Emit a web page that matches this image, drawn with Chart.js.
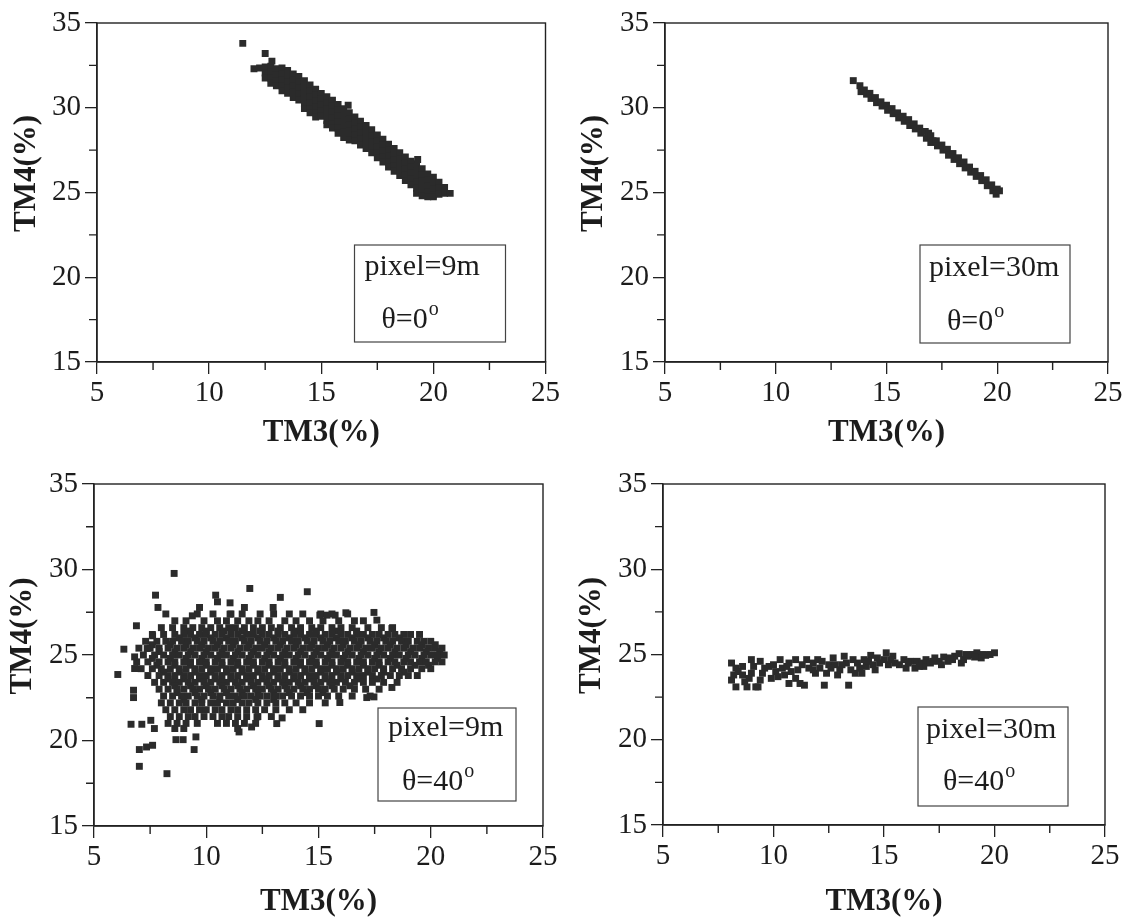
<!DOCTYPE html>
<html>
<head>
<meta charset="UTF-8">
<title>TM3 - TM4</title>
<script src="https://cdn.jsdelivr.net/npm/chart.js"></script>
<style>
  body { margin: 0; background: #fff; }
  #wrap { position: relative; width: 1125px; height: 917px; }
  #wrap canvas { position: absolute; }
</style>
</head>
<body>
<div id="wrap">
  <canvas id="c1" width="562" height="458" style="left:0;top:0"></canvas>
  <canvas id="c2" width="563" height="458" style="left:562px;top:0"></canvas>
  <canvas id="c3" width="562" height="459" style="left:0;top:458px"></canvas>
  <canvas id="c4" width="563" height="459" style="left:562px;top:458px"></canvas>
</div>

<script>
  // tick values
  const xMajor = [5, 10, 15, 20, 25];
  const yMajor = [15, 20, 25, 30, 35];
  const xMinor = [7.5, 12.5, 17.5, 22.5];
  const yMinor = [17.5, 22.5, 27.5, 32.5];

  // pixel=9m, theta=0 : columns [TM3, [TM4 ...]]
  const tlCols = [
    [12.0, [32.3]], [12.25, [32.35]],
    [12.5, [32.4, 32.05, 31.75]], [12.75, [32.45, 32.1, 31.75, 31.45]],
    [13.0, [32.3, 31.95, 31.6, 31.3]], [13.25, [32.35, 32.0, 31.65, 31.3, 31.0]],
    [13.5, [32.2, 31.85, 31.5, 31.15, 30.85]], [13.75, [32.0, 31.65, 31.3, 30.95, 30.6]],
    [14.0, [31.85, 31.5, 31.15, 30.8, 30.45]], [14.25, [31.6, 31.25, 30.9, 30.55, 30.2, 29.95]],
    [14.5, [31.35, 31.0, 30.65, 30.3, 29.95, 29.7]], [14.75, [31.1, 30.75, 30.4, 30.05, 29.7, 29.45]],
    [15.0, [30.85, 30.5, 30.15, 29.8, 29.5]], [15.25, [30.65, 30.3, 29.95, 29.6, 29.25, 29.0]],
    [15.5, [30.45, 30.1, 29.75, 29.4, 29.05, 28.8]], [15.75, [30.2, 29.85, 29.5, 29.15, 28.8, 28.5]],
    [16.0, [29.95, 29.6, 29.25, 28.9, 28.55, 28.25]], [16.25, [29.7, 29.35, 29.0, 28.65, 28.3, 28.1]],
    [16.5, [29.45, 29.1, 28.75, 28.4, 28.05]], [16.75, [29.2, 28.85, 28.5, 28.15, 27.8]],
    [17.0, [28.95, 28.6, 28.25, 27.9, 27.6]], [17.25, [28.7, 28.35, 28.0, 27.65, 27.35]],
    [17.5, [28.4, 28.05, 27.7, 27.35, 27.05]], [17.75, [28.15, 27.8, 27.45, 27.1, 26.8]],
    [18.0, [27.85, 27.5, 27.15, 26.8, 26.5]], [18.25, [27.6, 27.25, 26.9, 26.55, 26.25]],
    [18.5, [27.35, 27.0, 26.65, 26.3, 26.0]], [18.75, [27.1, 26.75, 26.4, 26.05, 25.7]],
    [19.0, [26.85, 26.5, 26.15, 25.8, 25.45]], [19.25, [26.7, 26.3, 25.95, 25.6, 25.25, 24.95]],
    [19.5, [26.4, 26.05, 25.7, 25.35, 25.0, 24.8]], [19.75, [26.1, 25.75, 25.4, 25.05, 24.75]],
    [20.0, [25.9, 25.55, 25.2, 24.85, 24.75]], [20.25, [25.6, 25.25, 24.9]],
    [20.5, [25.3, 24.95]], [20.75, [24.95]]
  ];
  const tlExtra = [[11.5, 33.8], [12.5, 33.2], [12.8, 32.75], [16.2, 30.15], [19.3, 26.95]];

  // pixel=30m, theta=0 : [TM3, TM4]
  const trPoints = [
    [13.5, 31.6], [13.8, 31.3], [13.85, 30.95], [14.0, 31.05], [14.1, 30.8], [14.25, 30.85], [14.3, 30.55],
    [14.5, 30.6], [14.55, 30.3], [14.75, 30.35], [14.8, 30.1], [15.0, 30.15], [15.05, 29.85], [15.25, 29.95],
    [15.3, 29.65], [15.5, 29.7], [15.55, 29.4], [15.75, 29.5], [15.8, 29.2], [16.0, 29.3], [16.05, 28.95],
    [16.25, 29.05], [16.3, 28.75], [16.5, 28.8], [16.55, 28.5], [16.75, 28.6], [16.8, 28.2], [16.9, 28.5],
    [17.0, 28.35], [17.0, 27.95], [17.1, 28.05], [17.25, 28.05], [17.3, 27.75], [17.5, 27.8], [17.55, 27.5],
    [17.75, 27.55], [17.8, 27.2], [18.0, 27.3], [18.05, 26.95], [18.25, 27.05], [18.3, 26.7], [18.5, 26.8],
    [18.55, 26.45], [18.75, 26.5], [18.8, 26.2], [19.0, 26.25], [19.05, 25.95], [19.25, 26.0], [19.3, 25.7],
    [19.5, 25.75], [19.55, 25.4], [19.75, 25.45], [19.8, 25.1], [20.0, 25.2], [19.95, 24.9], [20.1, 25.1]
  ];

  // pixel=9m, theta=40 : rows [TM4, [TM3 ...]]
  const blRows = [
    [27.4, [8.2, 9.6, 10.3, 11.1, 11.6, 12.4, 13.0, 13.7, 14.3, 15.1, 15.6, 16.3]],
    [27.0, [8.6, 9.1, 9.9, 10.5, 10.9, 11.4, 11.9, 12.3, 12.8, 13.5, 14.0, 14.6, 15.2, 15.9, 16.6, 17.0]],
    [26.6, [8.0, 8.5, 9.0, 9.4, 9.8, 10.2, 10.6, 11.0, 11.3, 11.7, 12.1, 12.5, 12.9, 13.3, 13.8, 14.2, 14.7,
            15.1, 15.6, 16.0, 16.5, 17.2, 17.8, 18.3]],
    [26.4, [9.2, 10.0, 10.8, 11.6, 12.4, 13.2, 14.0, 14.9, 15.8, 16.7]],
    [26.2, [7.6, 8.1, 8.6, 9.0, 9.3, 9.7, 10.0, 10.4, 10.7, 11.1, 11.4, 11.8, 12.1, 12.5, 12.8, 13.2, 13.5,
            13.9, 14.2, 14.6, 14.9, 15.3, 15.6, 16.0, 16.3, 16.7, 17.0, 17.4, 17.7, 18.1, 18.4, 18.8, 19.1, 19.5]],
    [26.0, [8.8, 9.5, 10.2, 10.9, 11.6, 12.3, 13.0, 13.7, 14.4, 15.1, 15.8, 16.5, 17.2, 17.9, 18.6]],
    [25.8, [7.3, 7.8, 8.2, 8.5, 8.9, 9.2, 9.6, 9.9, 10.3, 10.6, 11.0, 11.3, 11.7, 12.0, 12.4, 12.7, 13.1,
            13.4, 13.8, 14.1, 14.5, 14.8, 15.2, 15.5, 15.9, 16.2, 16.6, 16.9, 17.3, 17.6, 18.0, 18.3, 18.7,
            19.0, 19.4, 19.7, 20.0]],
    [25.6, [7.6, 8.4, 9.1, 9.8, 10.5, 11.2, 11.9, 12.6, 13.3, 14.0, 14.7, 15.4, 16.1, 16.8, 17.5, 18.2,
            18.9, 19.6, 20.2]],
    [25.4, [7.0, 7.5, 7.9, 8.3, 8.7, 9.0, 9.4, 9.7, 10.1, 10.4, 10.8, 11.1, 11.5, 11.8, 12.2, 12.5, 12.9,
            13.2, 13.6, 13.9, 14.3, 14.6, 15.0, 15.3, 15.7, 16.0, 16.4, 16.7, 17.1, 17.4, 17.8, 18.1, 18.5,
            18.8, 19.2, 19.5, 19.9, 20.2, 20.5]],
    [25.2, [7.9, 8.6, 9.3, 10.0, 10.7, 11.4, 12.1, 12.8, 13.5, 14.2, 14.9, 15.6, 16.3, 17.0, 17.7, 18.4,
            19.1, 19.8, 20.4]],
    [25.0, [7.2, 7.7, 8.1, 8.5, 8.8, 9.2, 9.5, 9.9, 10.2, 10.6, 10.9, 11.3, 11.6, 12.0, 12.3, 12.7, 13.0,
            13.4, 13.7, 14.1, 14.4, 14.8, 15.1, 15.5, 15.8, 16.2, 16.5, 16.9, 17.2, 17.6, 17.9, 18.3, 18.6,
            19.0, 19.3, 19.7, 20.0, 20.3, 20.6]],
    [24.8, [7.6, 8.4, 9.1, 9.8, 10.5, 11.2, 11.9, 12.6, 13.3, 14.0, 14.7, 15.4, 16.1, 16.8, 17.5, 18.2,
            18.9, 19.6, 20.3]],
    [24.6, [6.9, 7.4, 7.9, 8.3, 8.6, 9.0, 9.3, 9.7, 10.0, 10.4, 10.7, 11.1, 11.4, 11.8, 12.1, 12.5, 12.8,
            13.2, 13.5, 13.9, 14.2, 14.6, 14.9, 15.3, 15.6, 16.0, 16.3, 16.7, 17.0, 17.4, 17.7, 18.1, 18.4,
            18.8, 19.1, 19.5, 19.8, 20.2, 20.5]],
    [24.4, [7.8, 8.6, 9.3, 10.0, 10.7, 11.4, 12.1, 12.8, 13.5, 14.2, 14.9, 15.6, 16.3, 17.0, 17.7, 18.5,
            19.3, 19.9]],
    [24.2, [7.1, 7.6, 8.0, 8.4, 8.8, 9.1, 9.5, 9.8, 10.2, 10.5, 10.9, 11.2, 11.6, 11.9, 12.3, 12.6, 13.0,
            13.3, 13.7, 14.0, 14.4, 14.7, 15.1, 15.4, 15.8, 16.1, 16.5, 16.8, 17.2, 17.5, 17.9, 18.3, 18.7,
            19.1, 19.6, 20.0]],
    [24.0, [8.1, 8.8, 9.5, 10.2, 10.9, 11.6, 12.3, 13.0, 13.7, 14.4, 15.1, 15.8, 16.5, 17.2, 17.9, 18.8]],
    [23.8, [7.4, 7.9, 8.3, 8.6, 9.0, 9.3, 9.7, 10.0, 10.4, 10.7, 11.1, 11.4, 11.8, 12.1, 12.5, 12.8, 13.2,
            13.5, 13.9, 14.2, 14.6, 14.9, 15.3, 15.6, 16.0, 16.3, 16.7, 17.0, 17.4, 17.8, 18.2, 18.6, 19.0, 19.4]],
    [23.6, [8.3, 9.0, 9.7, 10.4, 11.1, 11.8, 12.5, 13.2, 13.9, 14.6, 15.3, 16.0, 16.8, 17.6]],
    [23.4, [7.7, 8.1, 8.5, 8.8, 9.2, 9.5, 9.9, 10.2, 10.6, 10.9, 11.3, 11.6, 12.0, 12.3, 12.7, 13.0, 13.4,
            13.7, 14.1, 14.4, 14.8, 15.1, 15.5, 15.8, 16.2, 16.6, 17.0, 17.4, 17.9, 18.5]],
    [23.2, [8.6, 9.3, 10.0, 10.7, 11.4, 12.1, 12.8, 13.5, 14.2, 14.9, 15.6, 16.4]],
    [23.0, [7.9, 8.3, 8.7, 9.0, 9.4, 9.7, 10.1, 10.4, 10.8, 11.1, 11.5, 11.8, 12.2, 12.5, 12.9, 13.2, 13.6,
            13.9, 14.3, 14.6, 15.0, 15.3, 15.7, 16.1, 16.6, 17.1, 17.7]],
    [22.8, [8.7, 9.5, 10.2, 10.9, 11.6, 12.3, 13.0, 13.7, 14.5, 15.2]],
    [22.6, [8.1, 8.5, 8.9, 9.2, 9.6, 9.9, 10.3, 10.6, 11.0, 11.3, 11.7, 12.0, 12.4, 12.7, 13.1, 13.4, 13.8,
            14.2, 14.6, 15.0, 15.4, 15.9, 16.5, 17.3]],
    [22.4, [9.0, 9.8, 10.6, 11.4, 12.2, 13.0]],
    [22.2, [8.0, 8.4, 8.8, 9.1, 9.5, 9.8, 10.2, 10.5, 10.9, 11.2, 11.6, 11.9, 12.3, 12.7, 13.1, 13.5, 14.0,
            14.6, 15.3]],
    [21.8, [8.2, 8.6, 9.0, 9.3, 9.7, 10.0, 10.4, 10.7, 11.1, 11.4, 11.8, 12.2, 12.6, 13.1, 13.7, 14.3]],
    [21.4, [8.4, 8.8, 9.2, 9.5, 9.9, 10.3, 10.7, 11.0, 11.4, 11.8, 12.3, 12.9]],
    [21.0, [8.3, 8.7, 9.1, 9.6, 10.5, 10.9, 11.3, 11.7, 12.2]],
    [20.7, [8.6, 9.0, 11.4]]
  ];
  const blExtra = [
    [6.06, 23.86], [6.33, 25.34], [6.89, 26.71], [6.81, 24.89], [6.81, 24.21], [6.76, 22.94], [6.76, 22.51],
    [6.65, 20.95], [7.13, 20.95], [7.02, 19.47], [7.02, 18.49], [7.34, 19.62], [7.61, 19.72], [7.74, 28.5],
    [7.85, 27.78], [7.61, 26.12], [7.37, 25.38], [7.53, 21.18], [7.69, 20.7], [8.25, 18.06], [8.57, 29.77],
    [8.65, 20.05], [8.97, 20.05], [9.46, 19.47], [9.54, 20.21], [9.7, 27.78], [9.38, 27.29], [10.42, 28.5],
    [10.5, 28.11], [11.06, 28.05], [11.94, 28.89], [11.7, 27.78], [11.06, 27.39], [11.46, 20.5],
    [12.02, 20.79], [12.26, 21.38], [13.14, 20.99], [13.38, 21.32], [13.3, 28.37], [12.98, 27.78],
    [14.5, 28.7], [15.06, 27.33], [15.38, 27.33], [15.74, 27.33], [16.22, 27.47], [15.95, 22.22],
    [15.03, 20.99], [17.47, 27.49], [17.6, 27.04], [18.27, 26.55], [17.47, 22.55], [18.27, 23.1], [17.15, 22.51]
  ];

  // pixel=30m, theta=40 : [TM3, TM4]
  const brPoints = [
    [8.1, 24.5], [8.3, 24.2], [8.2, 23.8], [8.1, 23.5], [8.3, 23.1], [8.6, 24.3], [8.6, 23.8], [8.7, 23.4],
    [8.8, 23.1], [9.0, 24.7], [9.0, 23.9], [9.1, 24.3], [9.2, 23.1], [9.4, 24.6], [9.5, 23.9], [9.4, 23.5],
    [9.3, 23.1], [9.8, 24.3], [9.9, 23.6], [10.1, 24.0], [10.3, 24.7], [10.2, 23.7], [10.4, 24.2], [10.5, 23.8],
    [10.7, 24.5], [10.7, 23.3], [10.8, 24.0], [11.0, 24.7], [11.0, 23.6], [11.1, 24.1], [11.2, 23.3], [11.3, 24.4],
    [11.4, 23.2], [11.5, 24.7], [11.6, 24.2], [11.8, 24.5], [11.9, 23.9], [12.0, 24.7], [12.1, 24.2], [12.2, 24.6],
    [12.3, 23.2], [12.4, 23.9], [12.5, 24.4], [12.7, 24.8], [12.8, 24.4], [12.9, 23.8], [13.0, 24.1], [13.2, 24.9],
    [13.3, 24.5], [13.4, 23.2], [13.5, 24.1], [13.6, 24.7], [13.7, 23.9], [13.8, 24.5], [14.0, 23.9], [14.1, 24.7],
    [14.2, 24.3], [14.4, 24.95], [14.5, 24.4], [14.6, 24.1], [14.7, 24.8], [14.8, 24.5], [15.0, 24.7], [15.1, 25.1],
    [15.2, 24.4], [15.4, 24.9], [15.5, 24.5], [15.7, 24.4], [15.9, 24.7], [16.0, 24.2], [16.2, 24.6], [16.4, 24.2],
    [16.5, 24.6], [16.7, 24.5], [16.8, 24.3], [16.9, 24.7], [17.1, 24.5], [17.3, 24.8], [17.5, 24.6], [17.6, 24.4],
    [17.7, 24.85], [17.9, 24.6], [18.1, 24.7], [18.2, 24.9], [18.4, 25.05], [18.5, 24.5], [18.6, 24.7], [18.8, 24.9],
    [19.0, 25.0], [19.2, 25.1], [19.4, 24.8], [19.6, 24.95], [19.8, 25.0], [20.0, 25.1],
    [8.4, 24.0], [8.9, 23.6], [9.6, 24.2], [10.0, 24.4], [10.6, 24.3], [11.8, 24.1], [12.6, 24.2], [13.1, 24.4],
    [13.9, 24.2], [14.3, 24.6], [15.3, 24.7], [16.1, 24.5], [16.6, 24.3], [17.2, 24.6], [18.0, 24.8], [18.7, 25.0],
    [19.1, 24.85], [19.5, 25.0]
  ];

  const serif = '"Liberation Serif", "Times New Roman", serif';
  const ink = '#1c1c1c';

  // box frame, minor ticks, y title and the text box in the corner
  const framePlugin = {
    id: 'frame',
    afterDraw(chart, args, o) {
      const { ctx, chartArea: a, scales } = chart;
      ctx.save();
      ctx.strokeStyle = '#222';
      ctx.lineWidth = 1.4;
      ctx.strokeRect(a.left, a.top, a.right - a.left, a.bottom - a.top);

      ctx.beginPath();
      xMinor.forEach(v => {
        const px = scales.x.getPixelForValue(v);
        ctx.moveTo(px, a.bottom); ctx.lineTo(px, a.bottom + 8);
      });
      yMinor.forEach(v => {
        const py = scales.y.getPixelForValue(v);
        ctx.moveTo(a.left, py); ctx.lineTo(a.left - 8, py);
      });
      ctx.stroke();

      // y axis title, sitting a little above the middle as in the original
      ctx.save();
      ctx.translate(o.titleX, (a.top + a.bottom) / 2 - 19);
      ctx.rotate(-Math.PI / 2);
      ctx.fillStyle = ink;
      ctx.font = 'bold 31px ' + serif;
      ctx.textAlign = 'center';
      ctx.textBaseline = 'middle';
      ctx.fillText('TM4(%)', 0, 0);
      ctx.restore();

      const bx = a.right - o.right - o.w, by = a.bottom - o.bottom - o.h;
      ctx.lineWidth = 1.2;
      ctx.strokeStyle = '#444';
      ctx.strokeRect(bx, by, o.w, o.h);
      ctx.fillStyle = ink;
      ctx.textBaseline = 'middle';
      ctx.font = '30px ' + serif;
      ctx.fillText(o.pixel, bx + o.dx1, by + o.dy1);
      ctx.fillText(o.theta, bx + o.dx2, by + o.dy2);
      const w = ctx.measureText(o.theta).width;
      ctx.font = '20px ' + serif;
      ctx.fillText('o', bx + o.dx2 + w + 1, by + o.dy2 - 10);
      ctx.restore();
    }
  };

  function toXY(list) { return list.map(p => ({ x: p[0], y: p[1] })); }
  function fromCols(cols) { const out = []; cols.forEach(c => c[1].forEach(y => out.push({ x: c[0], y }))); return out; }
  function fromRows(rows) { const out = []; rows.forEach(r => r[1].forEach(x => out.push({ x, y: r[0] }))); return out; }

  function makeChart(id, points, pad, yW, xH, box) {
    const tickFont = { family: serif, size: 29 };
    const titleFont = { family: serif, size: 31, weight: 'bold', lineHeight: 1 };
    const grid = { display: true, drawOnChartArea: false, drawTicks: true, tickLength: 12, color: '#222', lineWidth: 1.3 };
    const border = { display: true, color: '#222', width: 1.4 };
    new Chart(document.getElementById(id), {
      type: 'scatter',
      data: {
        datasets: [{
          data: points,
          pointStyle: 'rect',
          pointRadius: 4.9,
          pointHoverRadius: 4.9,
          pointBorderWidth: 0,
          pointBackgroundColor: '#2b2b2b'
        }]
      },
      options: {
        responsive: false,
        animation: false,
        events: [],
        layout: { padding: pad },
        plugins: { legend: { display: false }, tooltip: { enabled: false }, frame: box },
        scales: {
          x: {
            type: 'linear', min: xMajor[0], max: xMajor[xMajor.length - 1],
            ticks: { stepSize: 5, font: tickFont, color: ink, padding: 2, maxRotation: 0 },
            grid, border,
            title: { display: true, text: 'TM3(%)', font: titleFont, color: ink, padding: 0 },
            afterFit: s => { s.height = xH; }
          },
          y: {
            type: 'linear', min: yMajor[0], max: yMajor[yMajor.length - 1],
            ticks: { stepSize: 5, font: tickFont, color: ink, padding: 4 },
            grid, border,
            title: { display: false },
            afterFit: s => { s.width = yW; }
          }
        }
      },
      plugins: [framePlugin]
    });
  }

  makeChart('c1', fromCols(tlCols).concat(toXY(tlExtra)),
    { left: 0, top: 23, right: 15, bottom: 10 }, 97, 86,
    { titleX: 27, right: 40, bottom: 20, w: 151, h: 97, pixel: 'pixel=9m', theta: 'θ=0', dx1: 10, dy1: 22, dx2: 27, dy2: 75 });

  makeChart('c2', toXY(trPoints),
    { left: 0, top: 23, right: 17, bottom: 10 }, 103, 86,
    { titleX: 32, right: 38, bottom: 19, w: 150, h: 98, pixel: 'pixel=30m', theta: 'θ=0', dx1: 9, dy1: 23, dx2: 27, dy2: 77 });

  makeChart('c3', fromRows(blRows).concat(toXY(blExtra)),
    { left: 0, top: 26, right: 19, bottom: 0 }, 94, 91,
    { titleX: 23, right: 27, bottom: 25, w: 138, h: 93, pixel: 'pixel=9m', theta: 'θ=40', dx1: 10, dy1: 20, dx2: 24, dy2: 74 });

  makeChart('c4', toXY(brPoints),
    { left: 0, top: 26, right: 20, bottom: 0 }, 101, 92,
    { titleX: 30, right: 37, bottom: 19, w: 150, h: 99, pixel: 'pixel=30m', theta: 'θ=40', dx1: 8, dy1: 23, dx2: 25, dy2: 75 });
</script>
</body>
</html>
